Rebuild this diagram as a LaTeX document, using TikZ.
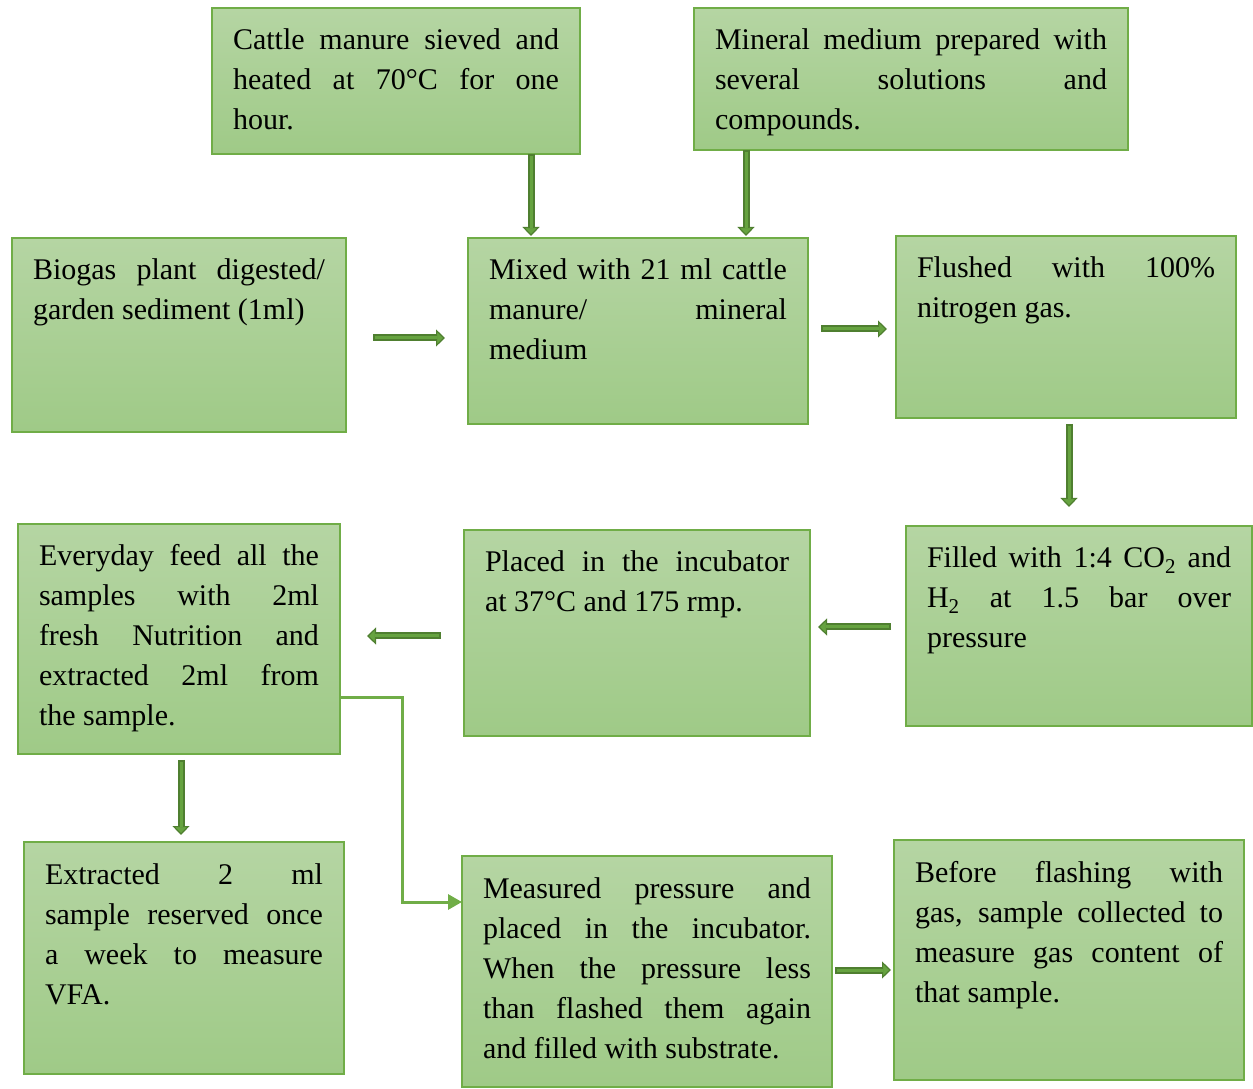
\documentclass[tikz,border=0pt]{standalone}
\usepackage{fontspec}
\setmainfont{Liberation Serif}
\usetikzlibrary{arrows.meta}
\definecolor{boxtop}{HTML}{B5D5A3}
\definecolor{boxbot}{HTML}{9FCA87}
\definecolor{boxline}{HTML}{70AD47}
\definecolor{arrdark}{HTML}{4F7F30}
\definecolor{arrmid}{HTML}{66A340}
\tikzset{
 stepbox/.style={draw=boxline, line width=2pt, top color=boxtop, bottom color=boxbot,
   anchor=north west, inner xsep=21pt, inner ysep=0pt, outer sep=0pt},
 fat/.style={draw=arrdark, line width=7pt,
   -{Triangle[length=9pt,width=17pt,line width=1.2pt,fill=arrmid]},
   postaction={draw=arrmid, line width=3pt, -, shorten >=8pt, shorten <=2pt}},
 conn/.style={draw=boxline, line width=3pt, -{Triangle[length=14pt,width=15pt]}}
}
\newcommand\boxbody[3]{\begin{minipage}[t][#2pt][t]{#1pt}\fontsize{30pt}{40pt}\selectfont
\hyphenpenalty=10000\exhyphenpenalty=10000\tolerance=10000\hbadness=10000
\rule{0pt}{42pt}#3\end{minipage}}
\begin{document}
\begin{tikzpicture}[x=1pt,y=1pt]
\useasboundingbox (0,0) rectangle (1253,1088);
% boxes: anchor north west at (x, 1088-ytop)
\node[stepbox] (cattle) at (212,1080) {\boxbody{326}{146}{Cattle manure sieved and\linebreak heated at 70°C for one\linebreak hour.}};
\node[stepbox] (mineral) at (694,1080) {\boxbody{392}{142}{Mineral medium prepared with\linebreak several solutions and\linebreak compounds.}};
\node[stepbox] (bio) at (12,850) {\boxbody{292}{194}{Biogas plant digested/\linebreak garden sediment (1ml)}};
\node[stepbox] (mix) at (468,850) {\boxbody{298}{186}{Mixed with 21 ml cattle\linebreak manure/ mineral\linebreak medium}};
\node[stepbox] (flush) at (896,852) {\boxbody{298}{182}{Flushed with 100\%\linebreak nitrogen gas.}};
\node[stepbox] (feed) at (18,564) {\boxbody{280}{230}{Everyday feed all the\linebreak samples with 2ml\linebreak fresh Nutrition and\linebreak extracted 2ml from\linebreak the sample.}};
\node[stepbox] (incub) at (464,558) {\boxbody{304}{206}{Placed in the incubator\linebreak at 37°C and 175 rmp.}};
\node[stepbox] (fill) at (906,562) {\boxbody{304}{200}{Filled with 1:4 CO\textsubscript{2} and\linebreak H\textsubscript{2} at 1.5 bar over\linebreak pressure}};
\node[stepbox] (extr) at (24,246) {\boxbody{278}{232}{Extracted 2 ml\linebreak sample reserved once\linebreak a week to measure\linebreak VFA.}};
\node[stepbox] (meas) at (462,232) {\boxbody{328}{231}{Measured pressure and\linebreak placed in the incubator.\linebreak When the pressure less\linebreak than flashed them again\linebreak and filled with substrate.}};
\node[stepbox] (before) at (894,248) {\boxbody{308}{240}{Before flashing with\linebreak gas, sample collected to\linebreak measure gas content of\linebreak that sample.}};
% fat arrows
\draw[fat] ([xshift=135pt]cattle.south) -- ([xshift=-107pt,yshift=2pt]mix.north);
\draw[fat] ([xshift=-165pt]mineral.south) -- ([xshift=108pt,yshift=2pt]mix.north);
\draw[fat] ([xshift=27pt,yshift=-3pt]bio.east) -- ([xshift=-23pt,yshift=-7pt]mix.west);
\draw[fat] ([xshift=13pt,yshift=2pt]mix.east) -- ([xshift=-9pt,yshift=-2pt]flush.west);
\draw[fat] ([xshift=3pt,yshift=-6pt]flush.south) -- ([xshift=-10pt,yshift=19pt]fill.north);
\draw[fat] ([xshift=-15pt,yshift=-1pt]fill.west) -- ([xshift=8pt,yshift=6pt]incub.east);
\draw[fat] ([xshift=-23pt,yshift=-3pt]incub.west) -- ([xshift=27pt,yshift=3pt]feed.east);
\draw[fat] ([xshift=2pt,yshift=-6pt]feed.south) -- ([xshift=-3pt,yshift=7pt]extr.north);
\draw[fat] ([xshift=3pt,yshift=1.5pt]meas.east) -- ([xshift=-3pt,yshift=-10pt]before.west);
% elbow connector
\draw[conn] ([yshift=-59pt]feed.east) -- ++(62,0) |- ([yshift=69.5pt]meas.west);
\end{tikzpicture}
\end{document}
